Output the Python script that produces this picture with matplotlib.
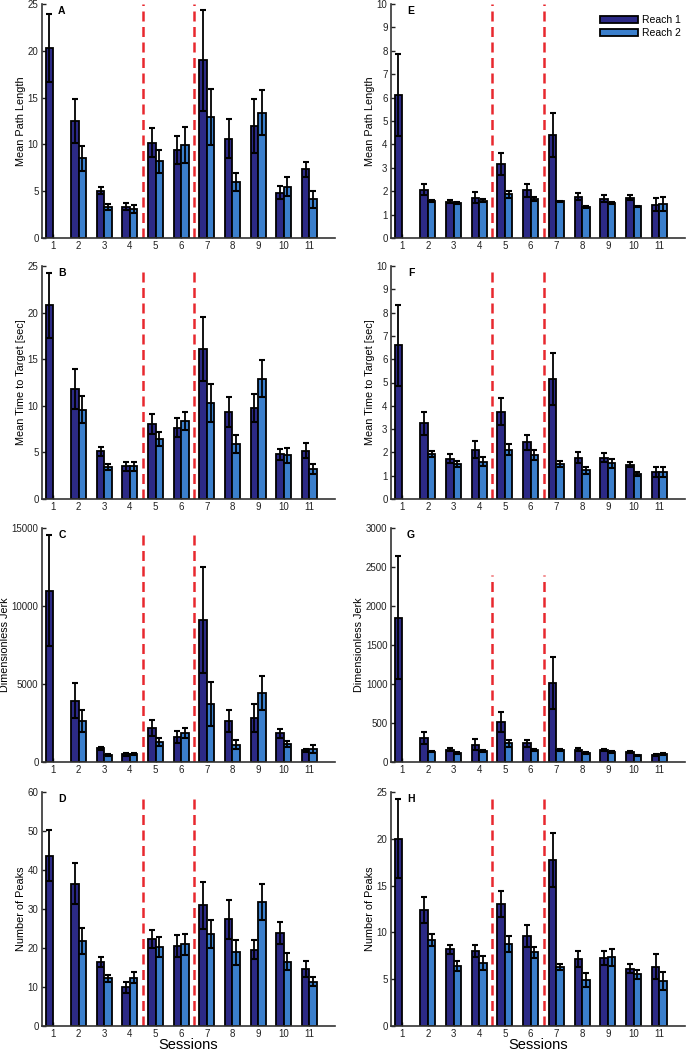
import matplotlib
matplotlib.use("Agg")
import matplotlib.pyplot as plt
import numpy as np

plt.rcParams['font.family'] = ['Liberation Sans', 'DejaVu Sans']

sessions = np.arange(1, 12)

# panel A / E: mean path length
path_r1 = [20.3, 12.5, 5.05, 3.35, 10.2, 9.4, 19.0, 10.6, 12.0, 4.85, 7.35]
path_r1_err = [3.6, 2.4, 0.4, 0.4, 1.5, 1.5, 5.4, 2.1, 2.9, 0.7, 0.8]
path_r2 = [np.nan, 8.5, 3.3, 3.1, 8.2, 9.95, 12.9, 6.0, 13.4, 5.5, 4.15]
path_r2_err = [np.nan, 1.35, 0.3, 0.4, 1.25, 1.9, 3.0, 0.95, 2.4, 1.0, 0.9]

path_r1_e = [6.1, 2.07, 1.55, 1.73, 3.17, 2.03, 4.4, 1.77, 1.68, 1.73, 1.42]
path_r1_e_err = [1.75, 0.23, 0.07, 0.22, 0.48, 0.28, 0.93, 0.16, 0.16, 0.1, 0.28]
path_r2_e = [np.nan, 1.58, 1.5, 1.6, 1.87, 1.66, 1.56, 1.31, 1.48, 1.35, 1.44]
path_r2_e_err = [np.nan, 0.05, 0.04, 0.05, 0.14, 0.08, 0.04, 0.04, 0.04, 0.03, 0.3]

# panel B / F: time to target
time_r1 = [20.8, 11.8, 5.1, 3.5, 8.05, 7.65, 16.1, 9.35, 9.8, 4.8, 5.2]
time_r1_err = [3.5, 2.1, 0.5, 0.5, 1.05, 1.0, 3.4, 1.6, 1.5, 0.6, 0.85]
time_r2 = [np.nan, 9.6, 3.45, 3.5, 6.45, 8.4, 10.3, 5.9, 12.9, 4.7, 3.2]
time_r2_err = [np.nan, 1.45, 0.3, 0.5, 0.75, 0.95, 2.0, 0.95, 2.0, 0.8, 0.55]

time_r1_f = [6.59, 3.25, 1.73, 2.11, 3.75, 2.43, 5.15, 1.77, 1.77, 1.48, 1.16]
time_r1_f_err = [1.73, 0.5, 0.2, 0.37, 0.58, 0.33, 1.1, 0.23, 0.2, 0.11, 0.23]
time_r2_f = [np.nan, 1.94, 1.5, 1.6, 2.11, 1.9, 1.5, 1.23, 1.53, 1.07, 1.16]
time_r2_f_err = [np.nan, 0.14, 0.11, 0.2, 0.23, 0.21, 0.14, 0.16, 0.18, 0.07, 0.23]

# panel C / G: dimensionless jerk
jerk_r1 = [10980, 3940, 880, 490, 2180, 1630, 9120, 2610, 2850, 1840, 750]
jerk_r1_err = [3570, 1130, 110, 85, 510, 385, 3400, 710, 900, 280, 90]
jerk_r2 = [np.nan, 2630, 470, 510, 1300, 1860, 3700, 1110, 4430, 1130, 840]
jerk_r2_err = [np.nan, 690, 65, 85, 260, 340, 1410, 280, 1110, 190, 235]

jerk_r1_g = [1848, 314, 159, 223, 516, 241, 1010, 159, 150, 133, 95]
jerk_r1_g_err = [790, 77, 15, 70, 125, 47, 335, 15, 15, 12, 12]
jerk_r2_g = [np.nan, 133, 116, 142, 241, 150, 155, 112, 125, 86, 103]
jerk_r2_g_err = [np.nan, 10, 10, 15, 47, 15, 12, 10, 10, 8, 14]

# panel D / H: number of peaks
peaks_r1 = [43.7, 36.5, 16.4, 9.9, 22.3, 20.5, 30.9, 27.4, 19.6, 23.8, 14.6]
peaks_r1_err = [6.5, 5.3, 1.3, 1.4, 2.4, 2.8, 6.0, 5.0, 2.4, 2.8, 2.1]
peaks_r2 = [np.nan, 21.8, 12.3, 12.4, 20.2, 20.9, 23.6, 18.9, 31.8, 16.5, 11.4]
peaks_r2_err = [np.nan, 3.3, 0.9, 1.5, 2.5, 2.6, 3.7, 3.2, 4.7, 2.2, 1.1]

peaks_r1_h = [20.0, 12.4, 8.19, 8.0, 13.03, 9.6, 17.73, 7.16, 7.3, 6.13, 6.34]
peaks_r1_h_err = [4.2, 1.4, 0.5, 0.68, 1.4, 1.14, 2.9, 0.85, 0.75, 0.5, 1.35]
peaks_r2_h = [np.nan, 9.19, 6.45, 6.77, 8.8, 7.87, 6.3, 4.95, 7.34, 5.52, 4.77]
peaks_r2_h_err = [np.nan, 0.6, 0.53, 0.75, 0.85, 0.6, 0.36, 0.75, 0.9, 0.46, 0.96]

ylabels = ['Mean Path Length', 'Mean Time to Target [sec]',
           'Dimensionless Jerk', 'Number of Peaks']

c1 = '#2c2a86'
c2 = '#3b7fcc'
red = '#e8282e'

panels = [
    # label, data, ylim, yticks, column, row, dashed-line top fraction
    ('A', (path_r1, path_r1_err, path_r2, path_r2_err), 25, np.arange(0, 26, 5), 0, 0, 1.0),
    ('B', (time_r1, time_r1_err, time_r2, time_r2_err), 25, np.arange(0, 26, 5), 0, 1, 0.98),
    ('C', (jerk_r1, jerk_r1_err, jerk_r2, jerk_r2_err), 15000, np.arange(0, 15001, 5000), 0, 2, 0.99),
    ('D', (peaks_r1, peaks_r1_err, peaks_r2, peaks_r2_err), 60, np.arange(0, 61, 10), 0, 3, 0.99),
    ('E', (path_r1_e, path_r1_e_err, path_r2_e, path_r2_e_err), 10, np.arange(0, 11, 1), 1, 0, 1.0),
    ('F', (time_r1_f, time_r1_f_err, time_r2_f, time_r2_f_err), 10, np.arange(0, 11, 1), 1, 1, 0.99),
    ('G', (jerk_r1_g, jerk_r1_g_err, jerk_r2_g, jerk_r2_g_err), 3000, np.arange(0, 3001, 500), 1, 2, 0.80),
    ('H', (peaks_r1_h, peaks_r1_h_err, peaks_r2_h, peaks_r2_h_err), 25, np.arange(0, 26, 5), 1, 3, 0.99),
]

fig = plt.figure(figsize=(6.86, 10.5), dpi=100)

W, H = 686, 1050
col_x = [(42, 335), (391, 685)]
row_y = [(4, 238), (266, 499), (528, 762), (792, 1026)]

w = 0.29
for lab, (r1, r1e, r2, r2e), ymax, yt, col, row, vtop in panels:
    x0, x1 = col_x[col]
    y0, y1 = row_y[row]
    ax = fig.add_axes([x0 / W, 1 - y1 / H, (x1 - x0) / W, (y1 - y0) / H])
    ax.bar(sessions - w / 2, r1, w, color=c1, edgecolor='black', linewidth=1.3,
           label='Reach 1', zorder=2)
    ax.bar(sessions + w / 2, r2, w, color=c2, edgecolor='black', linewidth=1.3,
           label='Reach 2', zorder=2)
    ax.errorbar(sessions - w / 2, r1, yerr=r1e, fmt='none', ecolor='black',
                elinewidth=1.3, capsize=2.5, capthick=1.5, zorder=3)
    ax.errorbar(sessions + w / 2, r2, yerr=r2e, fmt='none', ecolor='black',
                elinewidth=1.3, capsize=2.5, capthick=1.5, zorder=3)
    for xv in (4.5, 6.5):
        ax.axvline(xv, ymin=0, ymax=vtop, color=red, lw=1.8,
                   linestyle=(0, (4, 2.2)), zorder=1)
    ax.set_xlim(0.57, 12.0)
    ax.set_ylim(0, ymax)
    ax.set_xticks(sessions)
    ax.set_yticks(yt)
    ax.tick_params(direction='in', length=3, labelsize=7, colors='#222222',
                   width=1, pad=2.5)
    for s in ('top', 'right'):
        ax.spines[s].set_visible(False)
    for s in ('left', 'bottom'):
        ax.spines[s].set_linewidth(1.2)
        ax.spines[s].set_color('#333333')
    ax.set_ylabel(ylabels[row], fontsize=7.8, labelpad=1.5)
    ax.text(0.068, 0.99, lab, transform=ax.transAxes,
            fontsize=7.5, fontweight='bold', va='top', ha='center')
    if row == 3:
        ax.set_xlabel('Sessions', fontsize=10.5, labelpad=-1)
    if lab == 'E':
        ax.legend(loc='upper right', frameon=False, fontsize=7.5,
                  handlelength=3.6, handleheight=0.75, borderaxespad=0.0,
                  labelspacing=0.3, handletextpad=0.4,
                  bbox_to_anchor=(1.0, 0.97))

fig.savefig('out.png', dpi=100)
